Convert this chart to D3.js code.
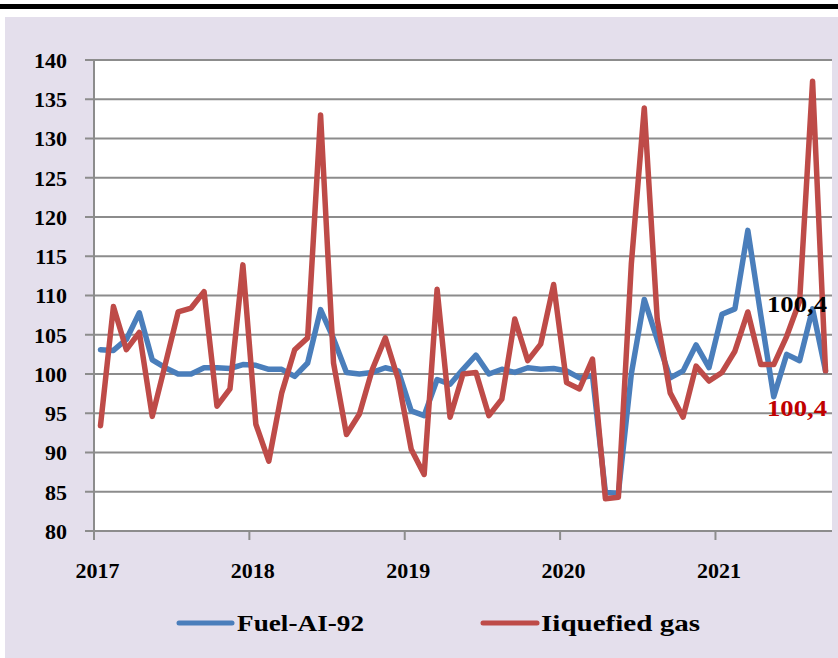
<!DOCTYPE html>
<html>
<head>
<meta charset="utf-8">
<script src="https://cdnjs.cloudflare.com/ajax/libs/d3/7.8.5/d3.min.js"></script>
<style>
  html, body { margin: 0; padding: 0; background: #ffffff; }
  svg text { font-family: "Liberation Serif", "Times New Roman", serif; font-weight: bold; }
</style>
</head>
<body>
<svg id="chart" width="838" height="658"></svg>
<script>
// ---- data ----
const categories = [
  "2017-01","2017-02","2017-03","2017-04","2017-05","2017-06","2017-07","2017-08","2017-09","2017-10","2017-11","2017-12",
  "2018-01","2018-02","2018-03","2018-04","2018-05","2018-06","2018-07","2018-08","2018-09","2018-10","2018-11","2018-12",
  "2019-01","2019-02","2019-03","2019-04","2019-05","2019-06","2019-07","2019-08","2019-09","2019-10","2019-11","2019-12",
  "2020-01","2020-02","2020-03","2020-04","2020-05","2020-06","2020-07","2020-08","2020-09","2020-10","2020-11","2020-12",
  "2021-01","2021-02","2021-03","2021-04","2021-05","2021-06","2021-07","2021-08","2021-09"
];
const fuelAI92 = [
  103.1, 103.0, 104.4, 107.8, 101.8, 100.8, 100.0, 100.0, 100.8, 100.8, 100.7, 101.2,
  101.1, 100.6, 100.6, 99.7, 101.4, 108.2, 104.5, 100.2, 100.0, 100.2, 100.8, 100.4,
  95.3, 94.7, 99.3, 98.7, 100.6, 102.4, 100.0, 100.6, 100.2, 100.8, 100.6, 100.7,
  100.4, 99.5, 99.8, 84.9, 84.8, 100.0, 109.5, 104.4, 99.5, 100.4, 103.7, 100.8,
  107.6, 108.3, 118.3, 107.5, 97.1, 102.5, 101.7, 108.3, 100.4
];
const liquefiedGas = [
  93.4, 108.6, 103.1, 105.3, 94.6, 101.2, 107.9, 108.4, 110.5, 95.9, 98.1, 113.9,
  93.6, 88.9, 97.6, 103.1, 104.6, 133.0, 101.4, 92.3, 94.9, 100.6, 104.6, 99.3,
  90.4, 87.2, 110.8, 94.5, 100.0, 100.2, 94.7, 96.8, 107.0, 101.7, 103.8, 111.4,
  98.9, 98.1, 101.9, 84.1, 84.3, 114.0, 133.9, 107.0, 97.6, 94.5, 101.0, 99.1,
  100.2, 102.9, 107.9, 101.2, 101.2, 104.8, 109.3, 137.3, 100.4
];
const yTicks = [80, 85, 90, 95, 100, 105, 110, 115, 120, 125, 130, 135, 140];
const yearLabels = ["2017", "2018", "2019", "2020", "2021"];
const seriesNames = ["Fuel-AI-92", "Iiquefied gas"];
const endLabels = ["100,4", "100,4"];

// ---- layout ----
const svg = d3.select("#chart");
const M = { left: 94, right: 832, top: 60, bottom: 531 };
const blue = "#4a7ebb", red = "#be4b48", grid = "#8c8c8c";

// top rule and background
svg.append("rect").attr("x", 0).attr("y", 4).attr("width", 838).attr("height", 5).attr("fill", "#000");
svg.append("rect").attr("x", 5).attr("y", 17).attr("width", 833).attr("height", 641).attr("fill", "#e4dfec");

const x = d3.scaleBand().domain(categories).range([M.left, M.right]).paddingInner(0).paddingOuter(0);
const y = d3.scaleLinear().domain([80, 140]).range([M.bottom, M.top]);
const cx = d => x(d) + x.bandwidth() / 2;

// plot area
svg.append("rect").attr("x", M.left).attr("y", M.top).attr("width", M.right - M.left)
  .attr("height", M.bottom - M.top).attr("fill", "#fff");

// gridlines
svg.append("g").selectAll("line").data(yTicks).join("line")
  .attr("x1", M.left - 9).attr("x2", M.right)
  .attr("y1", d => y(d)).attr("y2", d => y(d))
  .attr("stroke", grid).attr("stroke-width", 2);

// y axis line
svg.append("line").attr("x1", M.left).attr("x2", M.left).attr("y1", M.top).attr("y2", M.bottom)
  .attr("stroke", grid).attr("stroke-width", 2);

// y tick labels
svg.append("g").selectAll("text").data(yTicks).join("text")
  .attr("x", 67).attr("y", d => y(d)).attr("dy", "0.36em")
  .attr("text-anchor", "end").attr("font-size", 22).attr("fill", "#000")
  .text(d => d);

// x ticks at year boundaries
const yearStarts = yearLabels.map(yr => yr + "-01");
svg.append("g").selectAll("line").data(yearStarts).join("line")
  .attr("x1", d => x(d)).attr("x2", d => x(d))
  .attr("y1", M.bottom).attr("y2", M.bottom + 9)
  .attr("stroke", grid).attr("stroke-width", 2);
svg.append("g").selectAll("text").data(yearLabels).join("text")
  .attr("x", d => x(d + "-01") + 3.5).attr("y", 578)
  .attr("text-anchor", "middle").attr("font-size", 22).attr("fill", "#000")
  .text(d => d);

// lines
const line = d3.line().x((d, i) => cx(categories[i])).y(d => y(d));
[[fuelAI92, blue], [liquefiedGas, red]].forEach(([vals, col]) => {
  svg.append("path").datum(vals).attr("d", line)
    .attr("fill", "none").attr("stroke", col).attr("stroke-width", 5.5)
    .attr("stroke-linejoin", "round").attr("stroke-linecap", "round");
});

// end labels
svg.append("text").attr("x", 767).attr("y", 312)
  .attr("font-size", 23).attr("fill", "#000")
  .attr("textLength", 60).attr("lengthAdjust", "spacingAndGlyphs").text(endLabels[0]);
svg.append("text").attr("x", 767).attr("y", 416)
  .attr("font-size", 23).attr("fill", "#c00000")
  .attr("textLength", 60).attr("lengthAdjust", "spacingAndGlyphs").text(endLabels[1]);

// legend
const legend = [
  { name: seriesNames[0], color: blue, x1: 179, x2: 232, tx: 237, w: 127 },
  { name: seriesNames[1], color: red, x1: 483, x2: 537, tx: 541, w: 159 }
];
legend.forEach(l => {
  svg.append("line").attr("x1", l.x1).attr("x2", l.x2).attr("y1", 623).attr("y2", 623)
    .attr("stroke", l.color).attr("stroke-width", 5).attr("stroke-linecap", "round");
  svg.append("text").attr("x", l.tx).attr("y", 631).attr("font-size", 24).attr("fill", "#000")
    .attr("textLength", l.w).attr("lengthAdjust", "spacingAndGlyphs").text(l.name);
});
</script>
</body>
</html>
